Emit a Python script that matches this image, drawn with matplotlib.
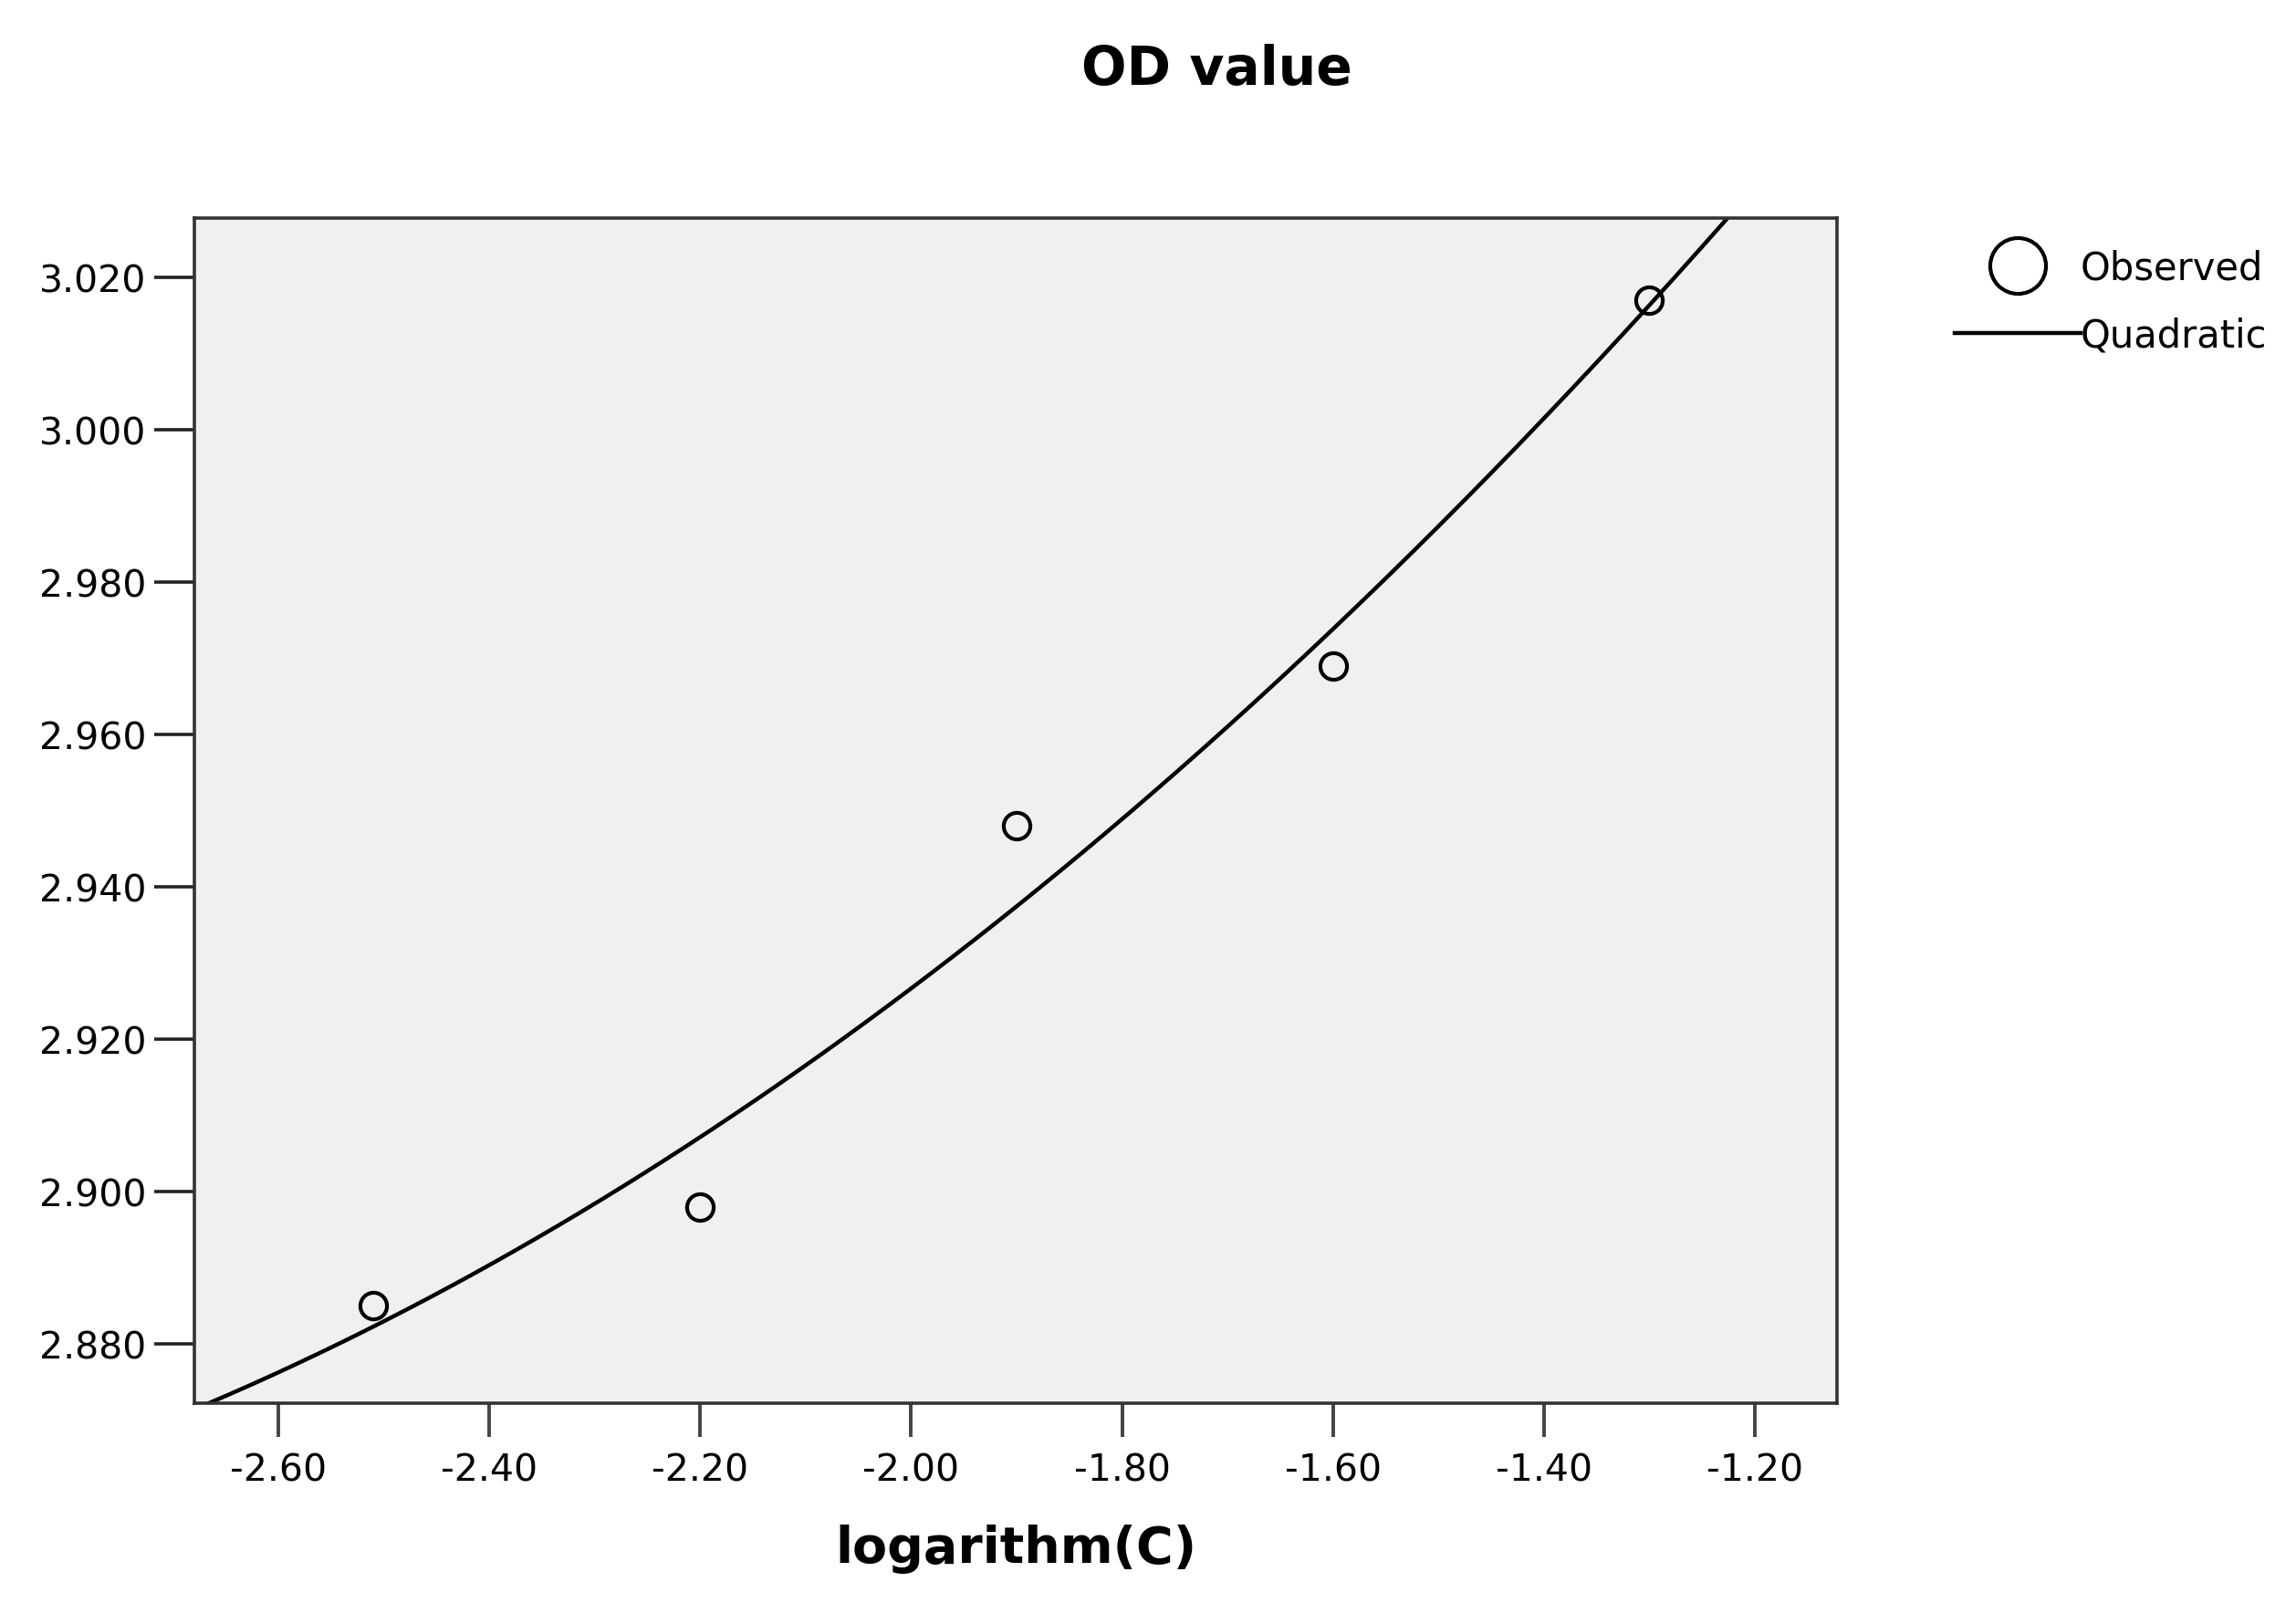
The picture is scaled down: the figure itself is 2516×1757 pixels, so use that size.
import numpy as np
import matplotlib
matplotlib.use("Agg")
import matplotlib.pyplot as plt
from matplotlib.lines import Line2D

# data
log_c = [-2.51, -2.20, -1.90, -1.60, -1.30]
od_value = [2.885, 2.898, 2.948, 2.969, 3.017]
x_ticks = [-2.60, -2.40, -2.20, -2.00, -1.80, -1.60, -1.40, -1.20]
y_ticks = [2.880, 2.900, 2.920, 2.940, 2.960, 2.980, 3.000, 3.020]

plt.rcParams['font.family'] = ['DejaVu Sans']

W, H = 2516, 1758
fig = plt.figure(figsize=(W / 100, H / 100), dpi=100)
ax = fig.add_axes([213 / W, 1 - 1539 / H, (2013 - 213) / W, (1539 - 240) / H])
ax.set_facecolor('#f0f0f0')

xlim = (-2.6796, -1.1221)
ylim = (2.8722, 3.0278)

# quadratic fit of observed data
coef = np.polyfit(log_c, od_value, 2)
xs = np.linspace(xlim[0] - 0.05, xlim[1] + 0.05, 400)
ax.plot(xs, np.polyval(coef, xs), color='black', lw=3.2, zorder=2)

ax.plot(log_c, od_value, linestyle='none', marker='o', markersize=21,
        markerfacecolor='none', markeredgecolor='black', markeredgewidth=3.0, zorder=3)

ax.set_xlim(*xlim)
ax.set_ylim(*ylim)
ax.set_xticks(x_ticks)
ax.set_xticklabels([f"{v:.2f}" for v in x_ticks])
ax.set_yticks(y_ticks)
ax.set_yticklabels([f"{v:.3f}" for v in y_ticks])

for s in ax.spines.values():
    s.set_color('#333333')
    s.set_linewidth(2.6)

ax.tick_params(axis='x', direction='out', length=26.5, width=2.8, color='#444444',
               labelsize=29.5, pad=12)
ax.tick_params(axis='y', direction='out', length=32, width=2.6, color='#222222',
               labelsize=29.5, pad=6)

ax.set_xlabel('logarithm(C)', fontsize=40, fontweight='bold', labelpad=28)

fig.text(1333 / W, 1 - 77 / H, 'OD value', fontsize=42, fontweight='bold',
         ha='center', va='center')

handles = [
    Line2D([], [], linestyle='none', marker='o', markersize=44,
           markerfacecolor='none', markeredgecolor='black', markeredgewidth=3.0),
    Line2D([], [], color='black', lw=3.2),
]
leg = fig.legend(handles, ['Observed', 'Quadratic'], loc='upper left',
                 bbox_to_anchor=(2142 / W, 1 - 274 / H), frameon=False,
                 fontsize=30, handlelength=3.3, handletextpad=0.0,
                 labelspacing=0.75, borderpad=0, borderaxespad=0)

fig.savefig('out.png', dpi=100, facecolor='white')
